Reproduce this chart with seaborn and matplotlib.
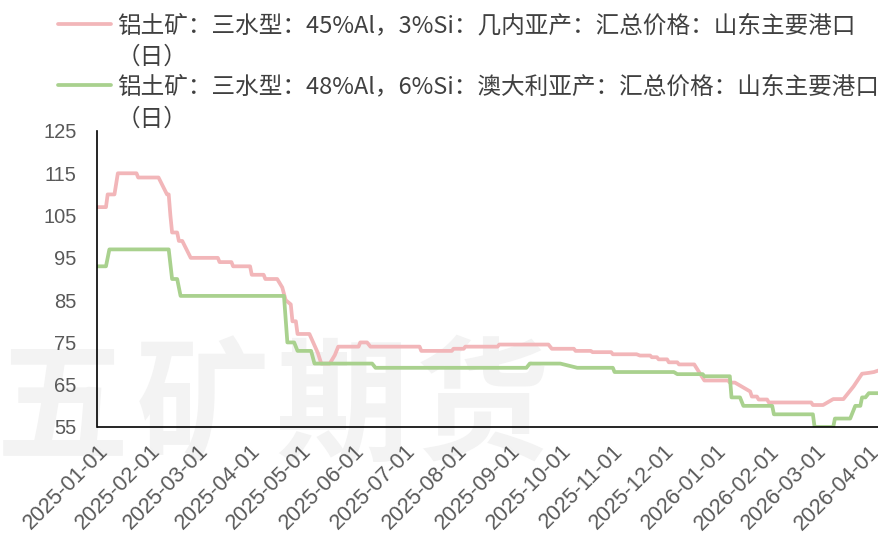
import matplotlib
matplotlib.use("Agg")
import matplotlib.pyplot as plt
import pandas as pd
import seaborn as sns

# ---------------- data ----------------
guinea_label = "铝土矿：三水型：45%Al，3%Si：几内亚产：汇总价格：山东主要港口"
australia_label = "铝土矿：三水型：48%Al，6%Si：澳大利亚产：汇总价格：山东主要港口"
label_suffix = "（日）"

guinea_dates = [
    "2025-01-01", "2025-01-06", "2025-01-07", "2025-01-11", "2025-01-13", "2025-01-24",
    "2025-01-25", "2025-02-06", "2025-02-11", "2025-02-12", "2025-02-13", "2025-02-14",
    "2025-02-17", "2025-02-18", "2025-02-20", "2025-02-25", "2025-03-13", "2025-03-14",
    "2025-03-21", "2025-03-22", "2025-04-01", "2025-04-02", "2025-04-09", "2025-04-10",
    "2025-04-17", "2025-04-20", "2025-04-22", "2025-04-25", "2025-04-26", "2025-04-28",
    "2025-04-29", "2025-05-06", "2025-05-11", "2025-05-13", "2025-05-18", "2025-05-21",
    "2025-05-23", "2025-06-04", "2025-06-05", "2025-06-09", "2025-06-11", "2025-07-10",
    "2025-07-11", "2025-07-29", "2025-07-30", "2025-08-05", "2025-08-06", "2025-08-25",
    "2025-08-26", "2025-09-24", "2025-09-26", "2025-10-09", "2025-10-10", "2025-10-19",
    "2025-10-20", "2025-10-31", "2025-11-01", "2025-11-15", "2025-11-17", "2025-11-23",
    "2025-11-24", "2025-11-27", "2025-11-28", "2025-12-03", "2025-12-04", "2025-12-09",
    "2025-12-10", "2025-12-19", "2025-12-25", "2026-01-08", "2026-01-09", "2026-01-12",
    "2026-01-21", "2026-01-22", "2026-01-25", "2026-01-26", "2026-01-31", "2026-02-01",
    "2026-02-26", "2026-02-27", "2026-03-05", "2026-03-11", "2026-03-17", "2026-03-23",
    "2026-03-27", "2026-03-28", "2026-04-01", "2026-04-04", "2026-04-07",
]
guinea_values = [
    107, 107, 110, 110, 115, 115,
    114, 114, 110, 110, 105, 101,
    101, 99, 99, 95, 95, 94,
    94, 93, 93, 91, 91, 90,
    90, 88, 85, 84, 80, 80,
    77, 77, 72.5, 70, 70, 72,
    74, 74, 75, 75, 74, 74,
    73, 73, 73.5, 73.5, 74, 74,
    74.5, 74.5, 73.5, 73.5, 73, 73,
    72.7, 72.7, 72.2, 72.2, 71.9, 71.9,
    71.5, 71.5, 71, 71, 70.3, 70.3,
    69.8, 69.8, 66, 66, 65.5, 65.5,
    63.4, 62.2, 62.2, 61.5, 61.5, 60.8,
    60.8, 60.2, 60.2, 61.6, 61.6, 64.6,
    67, 67.6, 67.8, 68, 68.4,
]

australia_dates = [
    "2025-01-01", "2025-01-06", "2025-01-08", "2025-02-12", "2025-02-14", "2025-02-17",
    "2025-02-19", "2025-04-21", "2025-04-23", "2025-04-27", "2025-04-29", "2025-05-07",
    "2025-05-09", "2025-06-12", "2025-06-14", "2025-09-11", "2025-09-13", "2025-10-01",
    "2025-10-11", "2025-11-01", "2025-11-02", "2025-12-07", "2025-12-09", "2025-12-24",
    "2025-12-25", "2026-01-09", "2026-01-10", "2026-01-15", "2026-01-17", "2026-02-03",
    "2026-02-04", "2026-02-27", "2026-02-28", "2026-03-11", "2026-03-12", "2026-03-21",
    "2026-03-24", "2026-03-27", "2026-03-28", "2026-03-30", "2026-04-01", "2026-04-07",
]
australia_values = [
    93, 93, 97, 97, 90, 90,
    86, 86, 75, 75, 73, 73,
    70, 70, 69, 69, 70, 70,
    69, 69, 68, 68, 67.5, 67.5,
    67, 67, 62, 62, 60, 60,
    58, 58, 55, 55, 57, 57,
    60, 60, 62, 62, 63, 63,
]

xtick_labels = [
    "2025-01-01", "2025-02-01", "2025-03-01", "2025-04-01", "2025-05-01", "2025-06-01",
    "2025-07-01", "2025-08-01", "2025-09-01", "2025-10-01", "2025-11-01", "2025-12-01",
    "2026-01-01", "2026-02-01", "2026-03-01", "2026-04-01",
]
ytick_values = [55, 65, 75, 85, 95, 105, 115, 125]
watermark_chars = ["五", "矿", "期", "货"]

# ---------------- style ----------------
pink = "#F2B6B9"
green = "#A9D18E"
text_grey = "#595959"
legend_grey = "#404040"

sns.set_style("white")
plt.rcParams["font.family"] = ["Noto Sans CJK SC", "DejaVu Sans"]

W, H = 879, 542
fig = plt.figure(figsize=(W / 100, H / 100), dpi=100)
ax = fig.add_axes([97.5 / W, 1 - 427 / H, 1 - 97.5 / W, 296 / H])
ax.patch.set_alpha(0)

# watermark
for i, ch in enumerate(watermark_chars):
    fig.text((62 + i * 140) / W, 1 - 410 / H, ch, fontsize=96, fontweight="bold",
             color="#f3f3f3", ha="center", va="center", zorder=-5,
             family=["Noto Sans CJK SC"])

df_g = pd.DataFrame({"date": pd.to_datetime(guinea_dates), "value": guinea_values})
df_a = pd.DataFrame({"date": pd.to_datetime(australia_dates), "value": australia_values})

sns.lineplot(data=df_g, x="date", y="value", ax=ax, color=pink, linewidth=2.7,
             estimator=None, label=guinea_label)
sns.lineplot(data=df_a, x="date", y="value", ax=ax, color=green, linewidth=2.7,
             estimator=None, label=australia_label)

ax.set_xlim(df_g["date"].min(), df_g["date"].max())
ax.set_ylim(55, 125)
ax.set_yticks(ytick_values)
ax.set_yticklabels([str(v) for v in ytick_values], family=["Liberation Sans"])
ax.set_xticks(pd.to_datetime(xtick_labels))
ax.set_xticklabels(xtick_labels, rotation=45, ha="right", rotation_mode="anchor",
                   family=["Liberation Sans"])
ax.set_xlabel("")
ax.set_ylabel("")

for s in ["top", "right"]:
    ax.spines[s].set_visible(False)
for s in ["left", "bottom"]:
    ax.spines[s].set_color("black")
    ax.spines[s].set_linewidth(1.2)

ax.tick_params(axis="both", direction="out", length=4, width=1.2, color="black",
               labelcolor=text_grey, labelsize=14.5)
ax.tick_params(axis="y", pad=11)
ax.tick_params(axis="x", pad=6, labelsize=15.5)

handles, labels = ax.get_legend_handles_labels()
leg = ax.legend(handles, labels, loc="upper left", bbox_to_anchor=(58 / W, 1 - 14 / H),
                bbox_transform=fig.transFigure, frameon=False, fontsize=17,
                handlelength=2.25, handletextpad=0.25, labelspacing=1.63,
                borderaxespad=0, borderpad=0)
for t in leg.get_texts():
    t.set_color(legend_grey)
for h in leg.legend_handles:
    h.set_linewidth(2.7)

fig.canvas.draw()
renderer = fig.canvas.get_renderer()
for t in leg.get_texts():
    bb = t.get_window_extent(renderer)
    yc = (bb.y0 + bb.y1) / 2 - 32
    fig.text(bb.x0 / W, yc / H, label_suffix, fontsize=17, color=legend_grey,
             ha="left", va="center")

fig.savefig("out.png", dpi=100)
